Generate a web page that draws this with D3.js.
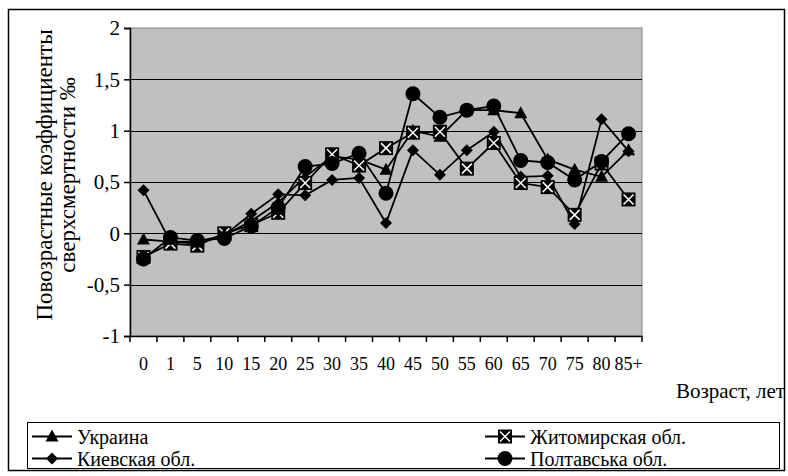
<!DOCTYPE html>
<html>
<head>
<meta charset="utf-8">
<script src="https://cdn.jsdelivr.net/npm/d3@7"></script>
<style>
  html, body { margin: 0; padding: 0; background: #fff; }
  svg { display: block; }
</style>
</head>
<body>
<svg id="chart" width="788" height="476"></svg>
<script>
// Age groups
const categories = ["0", "1", "5", "10", "15", "20", "25", "30", "35", "40", "45", "50", "55", "60", "65", "70", "75", "80", "85+"];

// Age-specific excess mortality coefficients, ‰
const ukraine   = [-0.06, -0.08, -0.10, -0.02, 0.12, 0.30, 0.55, 0.75, 0.72, 0.62, 1.00, 0.94, 1.20, 1.20, 1.17, 0.72, 0.62, 0.55, 0.81];
const kyiv      = [0.42, -0.08, -0.08, -0.02, 0.19, 0.38, 0.37, 0.52, 0.54, 0.10, 0.81, 0.57, 0.81, 0.99, 0.55, 0.56, 0.09, 1.11, 0.80];
const zhytomyr  = [-0.23, -0.10, -0.12, 0.00, 0.08, 0.20, 0.49, 0.77, 0.66, 0.83, 0.98, 0.99, 0.63, 0.88, 0.49, 0.45, 0.18, 0.68, 0.33];
const poltava   = [-0.25, -0.04, -0.07, -0.05, 0.07, 0.25, 0.65, 0.68, 0.78, 0.39, 1.36, 1.13, 1.20, 1.24, 0.71, 0.69, 0.52, 0.70, 0.97];

const yTicks = [-1, -0.5, 0, 0.5, 1, 1.5, 2];
const yTickLabels = ["-1", "-0,5", "0", "0,5", "1", "1,5", "2"];

const seriesNames = ["Украина", "Житомирская обл.", "Киевская обл.", "Полтавська обл."];

const series = [
  { name: seriesNames[0], values: ukraine,  marker: "triangle" },
  { name: seriesNames[2], values: kyiv,     marker: "diamond" },
  { name: seriesNames[1], values: zhytomyr, marker: "xsquare" },
  { name: seriesNames[3], values: poltava,  marker: "circle" }
];

const FONT = "'Liberation Serif', 'Times New Roman', Tinos, serif";

const svg = d3.select("#chart");

// outer frame
svg.append("rect")
  .attr("x", 8.5).attr("y", 9.5).attr("width", 776).attr("height", 461)
  .attr("fill", "#fff").attr("stroke", "#000").attr("stroke-width", 1.5);

const plot = { left: 130, right: 642, top: 28, bottom: 336 };

const x = d3.scaleBand().domain(categories).range([plot.left, plot.right]);
const y = d3.scaleLinear().domain([-1, 2]).range([plot.bottom, plot.top]);

// plot area
svg.append("rect")
  .attr("x", plot.left).attr("y", plot.top)
  .attr("width", plot.right - plot.left).attr("height", plot.bottom - plot.top)
  .attr("fill", "#c0c0c0").attr("stroke", "#808080").attr("stroke-width", 1);

// horizontal gridlines
svg.append("g")
  .selectAll("line")
  .data(yTicks.filter(v => v > -1 && v < 2))
  .join("line")
  .attr("x1", plot.left).attr("x2", plot.right)
  .attr("y1", d => Math.round(y(d)) + 0.5).attr("y2", d => Math.round(y(d)) + 0.5)
  .attr("stroke", "#000").attr("stroke-width", 1);

// y axis
const yAxis = d3.axisLeft(y)
  .tickValues(yTicks)
  .tickFormat((d, i) => yTickLabels[i])
  .tickSize(6)
  .tickPadding(4);
const gy = svg.append("g").attr("transform", `translate(${plot.left},0)`).call(yAxis);
gy.select(".domain").attr("stroke", "#000").attr("stroke-width", 1.5);
gy.selectAll(".tick line").attr("stroke", "#000").attr("stroke-width", 1.5);
gy.selectAll(".tick text").style("font-size", "21px");

// x axis (ticks between categories)
const xAxis = d3.axisBottom(x).tickSize(0).tickPadding(21);
const gx = svg.append("g").attr("transform", `translate(0,${plot.bottom})`).call(xAxis);
gx.select(".domain").attr("stroke", "#000").attr("stroke-width", 1.5);
gx.selectAll(".tick text").style("font-size", "18px");
gx.append("g")
  .selectAll("line")
  .data(d3.range(categories.length + 1))
  .join("line")
  .attr("x1", i => plot.left + i * x.step()).attr("x2", i => plot.left + i * x.step())
  .attr("y1", 0).attr("y2", 6)
  .attr("stroke", "#000").attr("stroke-width", 1.5);

// x axis title
svg.append("text")
  .attr("x", 785).attr("y", 398)
  .attr("text-anchor", "end")
  .style("font-size", "21px")
  .text("Возраст, лет");

// y axis title
const yTitle = svg.append("text")
  .attr("transform", "translate(0,175) rotate(-90)")
  .attr("text-anchor", "middle")
  .style("font-size", "23px");
yTitle.append("tspan").attr("x", 0).attr("y", 52).text("Повозрастные коэффициенты");
yTitle.append("tspan").attr("x", 0).attr("y", 75).text("сверхсмертности ‰");

// marker drawing
function drawMarker(g, type, cx, cy) {
  if (type === "triangle") {
    g.append("path")
      .attr("d", `M${cx},${cy - 7} L${cx + 6.5},${cy + 5} L${cx - 6.5},${cy + 5} Z`)
      .attr("fill", "#000");
  } else if (type === "diamond") {
    g.append("path")
      .attr("d", `M${cx},${cy - 6} L${cx + 6},${cy} L${cx},${cy + 6} L${cx - 6},${cy} Z`)
      .attr("fill", "#000");
  } else if (type === "circle") {
    g.append("circle").attr("cx", cx).attr("cy", cy).attr("r", 7.5).attr("fill", "#000");
  } else if (type === "xsquare") {
    g.append("rect").attr("x", cx - 7).attr("y", cy - 7).attr("width", 14).attr("height", 14).attr("fill", "#000");
    g.append("path")
      .attr("d", `M${cx - 5},${cy - 5} L${cx + 5},${cy + 5} M${cx + 5},${cy - 5} L${cx - 5},${cy + 5}`)
      .attr("stroke", "#fff").attr("stroke-width", 1.5);
  }
}

const line = d3.line()
  .x((d, i) => x(categories[i]) + x.bandwidth() / 2)
  .y(d => y(d));

const seriesG = svg.append("g");
series.forEach(s => {
  seriesG.append("path")
    .datum(s.values)
    .attr("d", line)
    .attr("fill", "none")
    .attr("stroke", "#000")
    .attr("stroke-width", 1.8);
});
series.forEach(s => {
  const g = seriesG.append("g");
  s.values.forEach((v, i) => drawMarker(g, s.marker, x(categories[i]) + x.bandwidth() / 2, y(v)));
});

// legend
svg.append("rect")
  .attr("x", 27.5).attr("y", 422.5).attr("width", 752).attr("height", 46)
  .attr("fill", "#fff").attr("stroke", "#000").attr("stroke-width", 1);

const legendItems = [
  { name: seriesNames[0], marker: "triangle", lx: 32, ly: 436.5 },
  { name: seriesNames[1], marker: "xsquare",  lx: 485, ly: 436.5 },
  { name: seriesNames[2], marker: "diamond",  lx: 32, ly: 458.5 },
  { name: seriesNames[3], marker: "circle",   lx: 485, ly: 458.5 }
];
legendItems.forEach(it => {
  const g = svg.append("g");
  g.append("line")
    .attr("x1", it.lx).attr("x2", it.lx + 40)
    .attr("y1", it.ly).attr("y2", it.ly)
    .attr("stroke", "#000").attr("stroke-width", 1.8);
  drawMarker(g, it.marker, it.lx + 20, it.ly);
  g.append("text")
    .attr("x", it.lx + 45).attr("y", it.ly + 7)
    .style("font-size", "20px")
    .text(it.name);
});

// serif typeface on every label
svg.selectAll("text").style("font-family", FONT).attr("fill", "#000");
</script>
</body>
</html>
